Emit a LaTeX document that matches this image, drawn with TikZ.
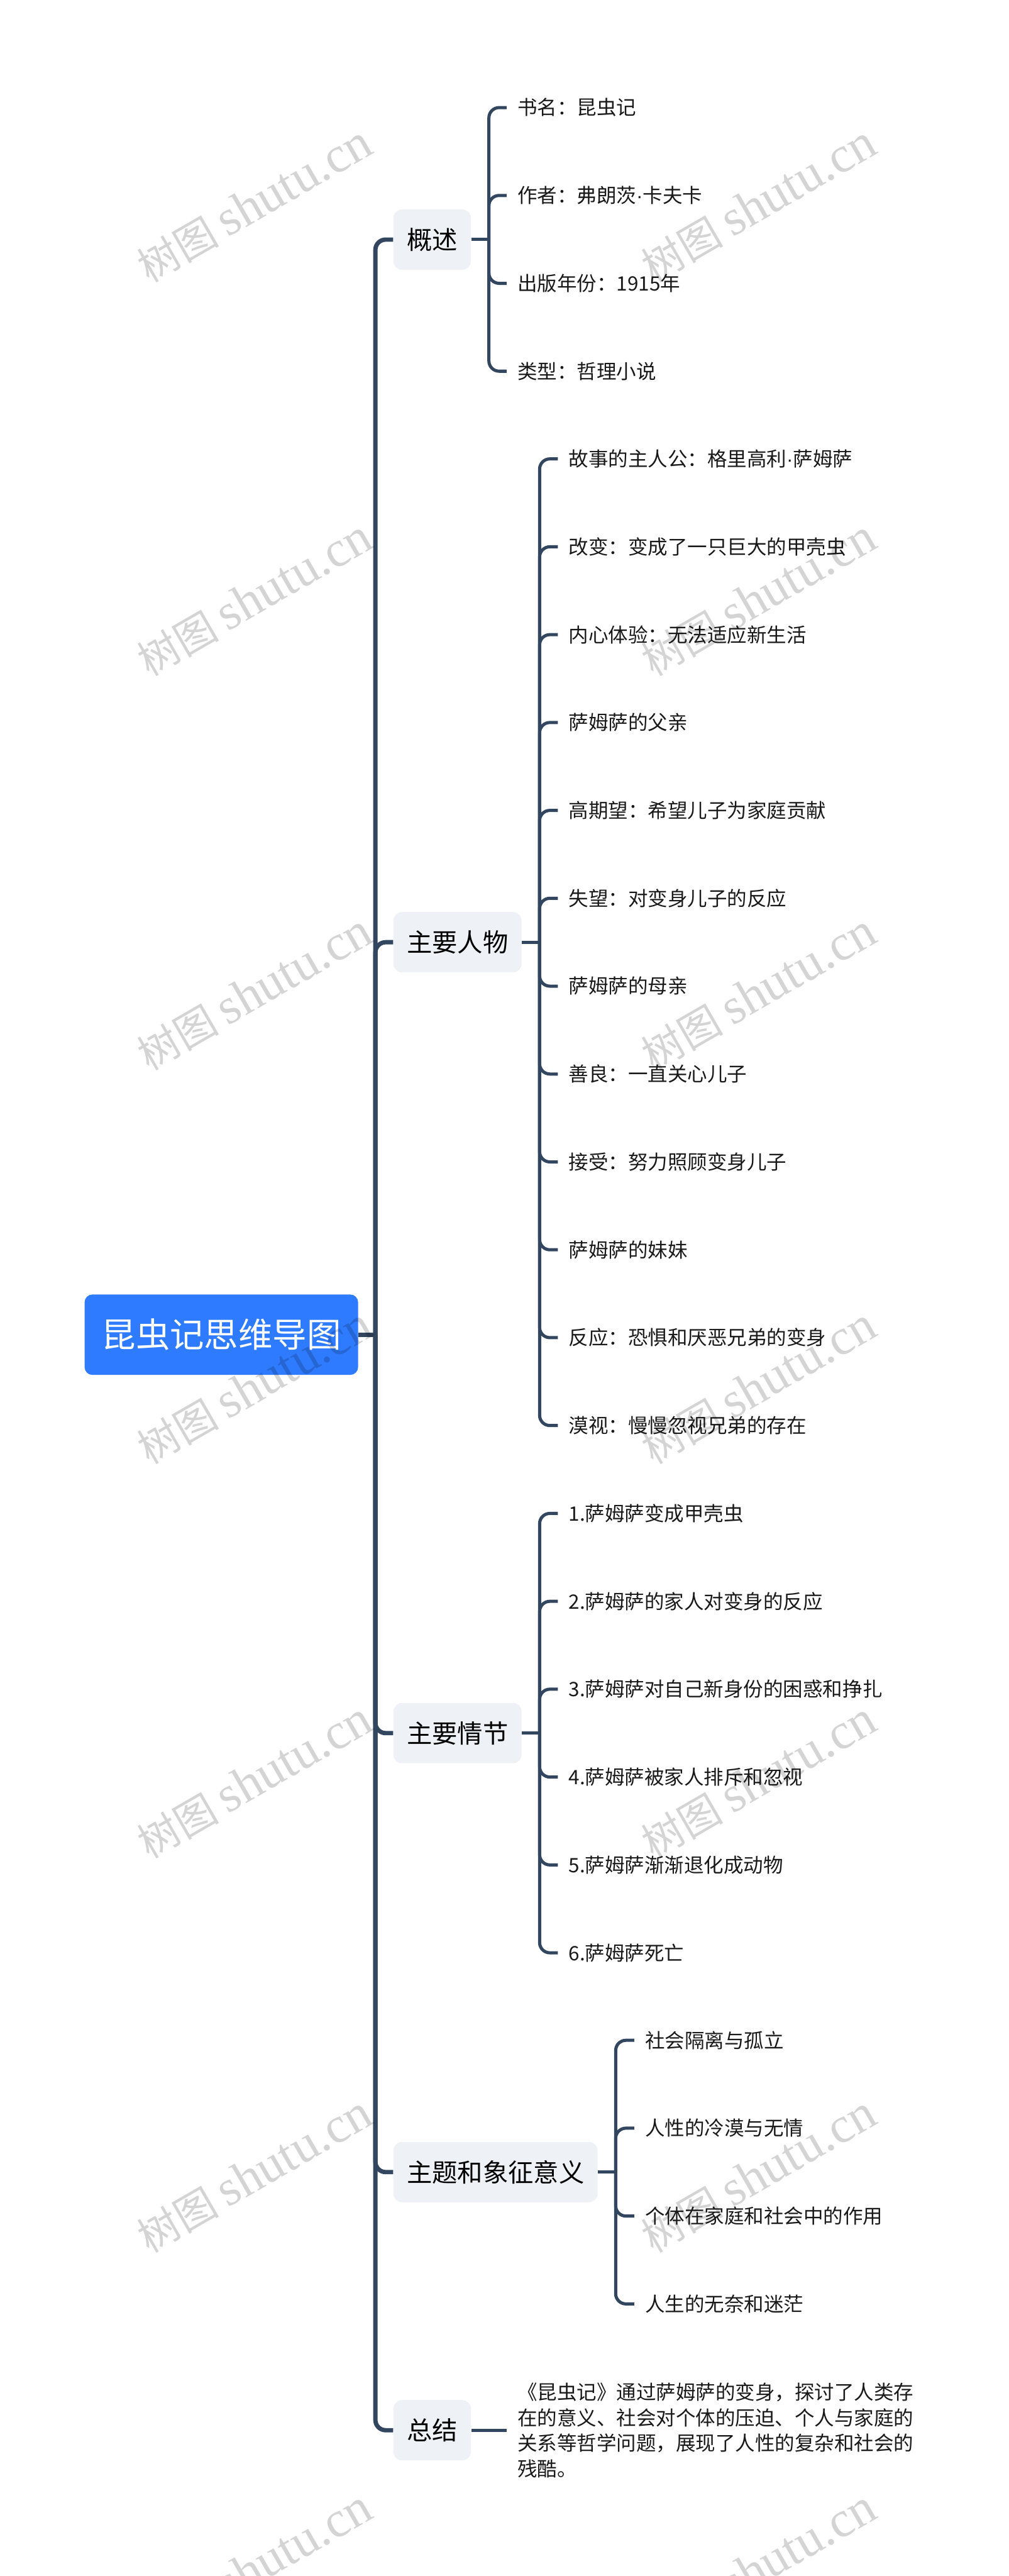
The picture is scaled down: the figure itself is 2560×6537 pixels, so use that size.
\documentclass[tikz,border=0pt]{standalone}
\usepackage{fontspec}
\setmainfont{Noto Sans CJK SC}
\newfontfamily\stampfont{Liberation Serif}
\newfontfamily\dotfont{Liberation Sans}
\newcommand{\namedot}{{\dotfont ·}}
\definecolor{rootblue}{HTML}{2E7BFF}
\definecolor{branchgray}{HTML}{EEF1F5}
\definecolor{linkblue}{HTML}{32465F}
\tikzset{
    root node/.style={anchor=west,fill=rootblue,text=white,rounded corners=.2cm,inner ysep=0pt,
        minimum width=6.94cm,minimum height=2.04cm,text height=.76cm,text depth=.1cm,font=\fontsize{24.7}{30}\selectfont},
    branch/.style={anchor=west,fill=branchgray,text=black,rounded corners=.22cm,inner xsep=.34cm,inner ysep=0pt,
        minimum height=1.53cm,text height=.57cm,text depth=.08cm,font=\fontsize{18.3}{24}\selectfont},
    leaf/.style={anchor=west,inner xsep=.27cm,inner ysep=0pt,text=black!90,text height=.44cm,text depth=.06cm,
        font=\fontsize{14.3}{18.4}\selectfont},
    trunk line/.style={draw=linkblue,line width=.11cm},
    twig line/.style={draw=linkblue,line width=.08cm},
    stamp/.style={rotate=30,inner sep=0pt,text=black,text opacity=.17,font=\fontsize{29.5}{40}\selectfont},
}
\begin{document}
\begin{tikzpicture}[x=.01cm,y=-.01cm]
    \useasboundingbox (0,0) rectangle (2560,6537);
    %root and main branches
    \node[root node] (root) at (214,3387) {昆虫记思维导图};
    \coordinate (trunk) at (953,3387);
    \node[branch] (gaishu) at (998,608) {概述};
    \node[branch] (renwu) at (998,2391) {主要人物};
    \node[branch] (qingjie) at (998,4398) {主要情节};
    \node[branch] (zhuti) at (998,5512) {主题和象征意义};
    \node[branch] (zongjie) at (998,6167) {总结};
    \draw[trunk line] (root.east) -- (trunk);
    \foreach \topic in {gaishu,renwu,qingjie,zhuti,zongjie}
        \draw[trunk line,rounded corners=.26cm] (trunk) |- (\topic.west);
    %hubs
    \foreach \topic in {gaishu,renwu,qingjie,zhuti}{
        \path (\topic.east) ++(45,0) coordinate (\topic-hub);
        \draw[twig line] (\topic.east) -- (\topic-hub);
    }
    %leaves
    \foreach \i/\itext in {0/书名：昆虫记,1/作者：弗朗茨\namedot 卡夫卡,2/出版年份：1915年,3/类型：哲理小说}{
        \node[leaf] (a\i) at (1286,{273+\i*223}) {\itext};
        \draw[twig line,rounded corners=.26cm] (gaishu-hub) |- (a\i.west);
    }
    \foreach \i/\itext in {0/故事的主人公：格里高利\namedot 萨姆萨,1/改变：变成了一只巨大的甲壳虫,2/内心体验：无法适应新生活,
        3/萨姆萨的父亲,4/高期望：希望儿子为家庭贡献,5/失望：对变身儿子的反应,6/萨姆萨的母亲,7/善良：一直关心儿子,
        8/接受：努力照顾变身儿子,9/萨姆萨的妹妹,10/反应：恐惧和厌恶兄弟的变身,11/漠视：慢慢忽视兄弟的存在}{
        \node[leaf] (b\i) at (1416,{1164.5+\i*223}) {\itext};
        \draw[twig line,rounded corners=.26cm] (renwu-hub) |- (b\i.west);
    }
    \foreach \i/\itext in {0/1.萨姆萨变成甲壳虫,1/2.萨姆萨的家人对变身的反应,2/3.萨姆萨对自己新身份的困惑和挣扎,
        3/4.萨姆萨被家人排斥和忽视,4/5.萨姆萨渐渐退化成动物,5/6.萨姆萨死亡}{
        \node[leaf] (c\i) at (1416,{3840.5+\i*223}) {\itext};
        \draw[twig line,rounded corners=.26cm] (qingjie-hub) |- (c\i.west);
    }
    \foreach \i/\itext in {0/社会隔离与孤立,1/人性的冷漠与无情,2/个体在家庭和社会中的作用,3/人生的无奈和迷茫}{
        \node[leaf] (d\i) at (1610,{5177.5+\i*223}) {\itext};
        \draw[twig line,rounded corners=.26cm] (zhuti-hub) |- (d\i.west);
    }
    \node[leaf,align=left,text height=,text depth=] (summary) at (1286,6167)
        {《昆虫记》通过萨姆萨的变身，探讨了人类存\\在的意义、社会对个体的压迫、个人与家庭的\\关系等哲学问题，展现了人性的复杂和社会的\\残酷。};
    \draw[twig line] (zongjie.east) -- (summary.west);
    %watermark
    \foreach \wx in {646,1926}
        \foreach \wy in {518,1518,...,6518}
            \node[stamp] (stamp\wx-\wy) at (\wx,\wy) {树图 {\stampfont\fontsize{36.5}{40}\selectfont shutu.cn}};
\end{tikzpicture}
\end{document}
